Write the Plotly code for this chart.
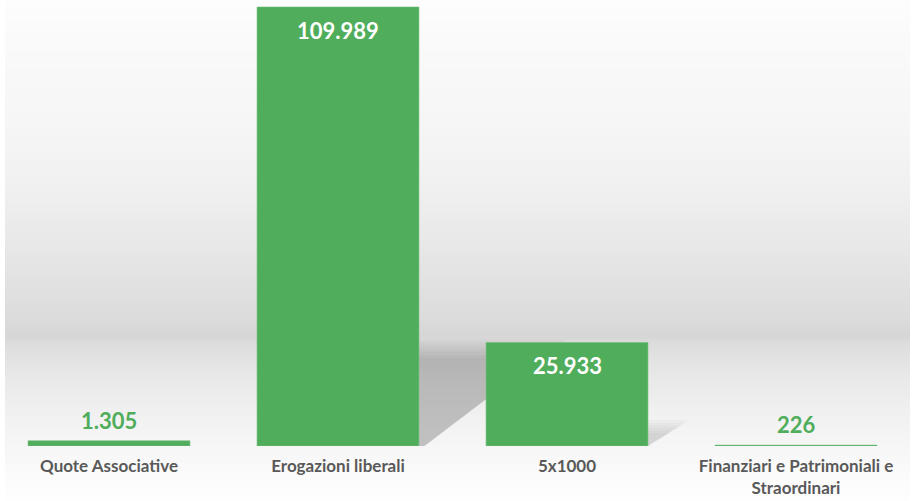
import plotly.graph_objects as go

categories = ["Quote Associative", "Erogazioni liberali", "5x1000", "Finanziari e Patrimoniali e Straordinari"]
tick_labels = ["Quote Associative", "Erogazioni liberali", "5x1000", "Finanziari e Patrimoniali e<br>Straordinari"]
values = [1305, 109989, 25933, 226]

GREEN = "#4fad5b"
W, H = 914, 501
T, B = 0, 55
plot_h = H - T - B
ymax = max(values) * plot_h / 439.0

fig = go.Figure()
fig.add_trace(go.Bar(
    x=list(range(len(categories))), y=values,
    marker=dict(color=GREEN, line=dict(color="#74c07e", width=0.6)),
    width=0.707, hoverinfo="skip", showlegend=False,
))

def fmt(v):
    return f"{v:,}".replace(",", ".")

annotations = []
for i, v in enumerate(values):
    inside = v > 0.15 * max(values)
    annotations.append(dict(
        x=i, y=v, xref="x", yref="y", text=fmt(v), showarrow=False,
        yanchor="top" if inside else "bottom",
        yshift=-8 if inside else 5,
        font=dict(family="Lato", size=22, color="white" if inside else GREEN, weight="bold"),
    ))

# background gradient (pixel y from top -> gray level)
stops = [(0, 253), (40, 250), (120, 246), (180, 241), (230, 234), (280, 226),
         (320, 219), (336, 214), (346, 222), (380, 233), (420, 242), (446, 246),
         (475, 251), (501, 254)]
def gray_at(py):
    for (a, ga), (b, gb) in zip(stops, stops[1:]):
        if a <= py <= b:
            t = (py - a) / (b - a)
            return round(ga + (gb - ga) * t)
    return 255

shapes = []
step = 3
for py in range(0, H, step):
    g = gray_at(py + step / 2)
    y1 = 1 - (py - T) / plot_h
    y0 = 1 - (py + step - T) / plot_h
    shapes.append(dict(type="rect", xref="paper", yref="paper",
                       x0=5 / W, x1=(W - 4) / W, y0=y0, y1=y1,
                       fillcolor=f"rgb({g},{g},{g})", line=dict(width=0), layer="below"))

# soft floor shadows cast by the tall bars, built from bar values
hw = 0.707 / 2
def shadow(i, height, reach, alpha, foot=0.03):
    xr = i + hw
    return dict(type="path", xref="x", yref="y", layer="below",
                path=f"M {xr},0 L {xr},{height} L {xr + reach},{height} L {xr + foot},0 Z",
                fillcolor=f"rgba(100,100,100,{alpha})", line=dict(width=0))

for k in [1.03, 1.0, 0.97, 0.94, 0.91, 0.88, 0.85]:
    shapes.append(shadow(1, values[2] * k, 0.62 * k, 0.055, foot=0.025 * k))
for k in [1.0, 0.9, 0.8, 0.7, 0.6, 0.5]:
    shapes.append(shadow(2, values[2] * 0.25 * k, 0.18 * k, 0.04, foot=0.0))

fig.update_layout(
    width=W, height=H,
    margin=dict(l=0, r=0, t=T, b=B, autoexpand=False),
    paper_bgcolor="white", plot_bgcolor="rgba(0,0,0,0)",
    xaxis=dict(range=[-109 / 229, -109 / 229 + W / 229], tickvals=list(range(len(categories))),
               ticktext=tick_labels, showgrid=False, zeroline=False, showline=False,
               ticks="", ticklabelstandoff=8, automargin=False,
               tickfont=dict(family="Lato", size=17, color="#595959", weight="bold")),
    yaxis=dict(range=[0, ymax], visible=False, showgrid=False, automargin=False),
    shapes=shapes, annotations=annotations,
)

fig.write_html("out.html", config={"displayModeBar": False},
               post_script="document.body.style.margin='0px';document.body.style.overflow='hidden';")
